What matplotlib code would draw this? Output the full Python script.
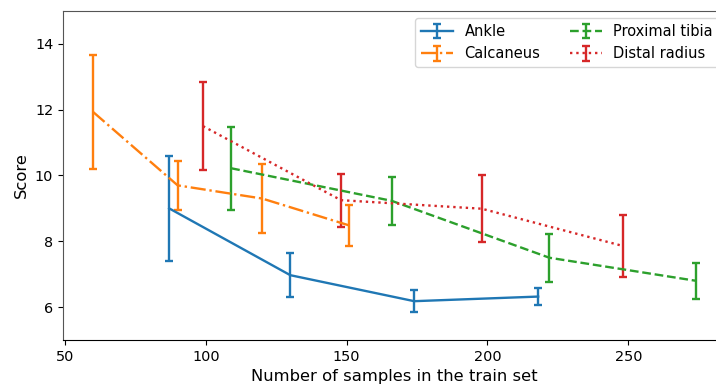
import matplotlib.pyplot as plt

ankle_x = [87, 130, 174, 218]
ankle_y = [9.0, 6.97, 6.18, 6.32]
ankle_err = [1.6, 0.67, 0.34, 0.25]

calc_x = [60, 90, 120, 151]
calc_y = [11.93, 9.70, 9.30, 8.48]
calc_err = [1.73, 0.75, 1.05, 0.62]

tibia_x = [109, 166, 222, 274]
tibia_y = [10.22, 9.23, 7.50, 6.80]
tibia_err = [1.26, 0.73, 0.73, 0.55]

radius_x = [99, 148, 198, 248]
radius_y = [11.5, 9.25, 8.99, 7.86]
radius_err = [1.33, 0.81, 1.01, 0.94]

fig = plt.figure(figsize=(7.16, 3.88), dpi=100)
ax = fig.add_axes([0.088, 0.1237, 0.926, 0.848])

style = dict(capsize=2.8, elinewidth=1.7, capthick=1.7, lw=1.7)
ax.errorbar(ankle_x, ankle_y, yerr=ankle_err, linestyle='-', color='tab:blue', label='Ankle', **style)
ax.errorbar(calc_x, calc_y, yerr=calc_err, linestyle='-.', color='tab:orange', label='Calcaneus', **style)
ax.errorbar(tibia_x, tibia_y, yerr=tibia_err, linestyle='--', color='tab:green', label='Proximal tibia', **style)
ax.errorbar(radius_x, radius_y, yerr=radius_err, linestyle=':', color='tab:red', label='Distal radius', **style)

ax.set_ylim(5, 15)
ax.set_yticks([6, 8, 10, 12, 14])
ax.set_xticks([50, 100, 150, 200, 250])
ax.set_xlabel('Number of samples in the train set', fontsize=11.8)
ax.set_ylabel('Score', fontsize=11.8)
ax.tick_params(labelsize=10.4)
ax.spines['left'].set_color('#555555')
ax.spines['top'].set_color('#555555')
ax.legend(loc='upper right', ncol=2, fontsize=10.5, handlelength=2.2)

fig.savefig('out.png', dpi=100)
